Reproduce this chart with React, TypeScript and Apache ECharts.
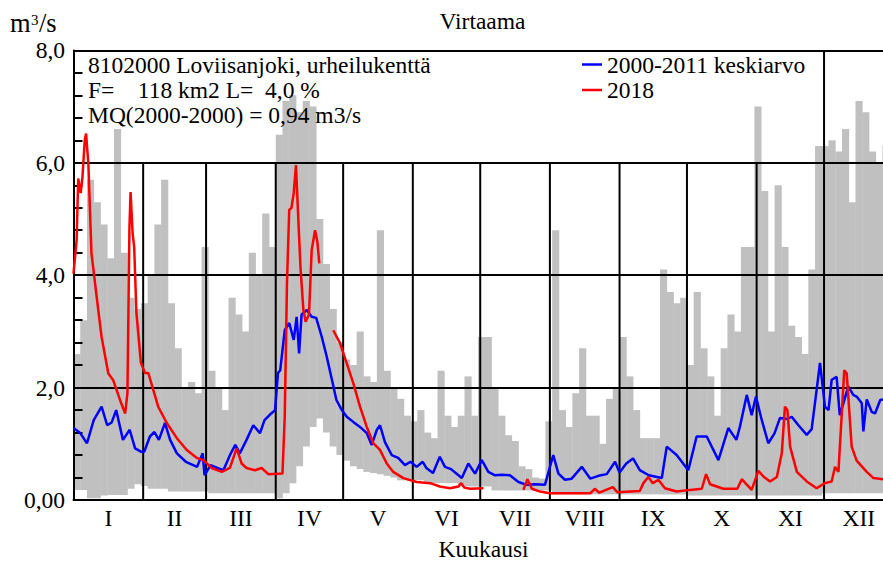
import React, { useEffect, useRef } from 'react';
import * as echarts from 'echarts';

// ---- data ----
// Gray band: daily range 2000-2011, summarised in 3-day bins (bin i starts at day i*3)
const BIN_DAYS = 3;
const grayMax = [
  2.6, 3.2, 5.7, 5.3, 4.9, 4.3, 6.6, 4.4, 3.6, 3.4,
  3.5, 4.0, 4.9, 5.7, 3.5, 2.7, 2.0, 2.1, 1.9, 4.5,
  2.3, 2.0, 1.6, 3.6, 3.3, 3.0, 4.4, 4.0, 5.1, 4.5,
  6.5, 7.1, 7.2, 6.9, 7.1, 7.0, 5.0, 4.2, 3.4, 2.8,
  2.5, 2.4, 3.0, 2.2, 2.1, 4.8, 2.3, 2.0, 1.8, 1.5,
  1.4, 1.6, 1.2, 1.1, 2.3, 1.5, 1.3, 1.5, 2.2, 1.5,
  2.9, 2.9, 2.0, 1.5, 1.15, 1.05, 0.6, 0.55, 0.4, 0.38,
  1.4, 4.8, 1.6, 1.3, 1.9, 2.7, 1.5, 1.5, 1.0, 1.8,
  2.0, 2.9, 2.2, 1.6, 1.1, 1.1, 1.1, 4.1, 3.7, 3.5,
  3.6, 2.4, 3.7, 2.7, 2.2, 1.5, 2.7, 3.3, 3.0, 4.5,
  4.5, 7.0, 5.5, 3.0, 5.6, 4.5, 3.1, 2.9, 2.6, 4.1,
  6.3, 6.3, 6.4, 6.2, 6.6, 5.3, 7.1, 6.9, 6.2, 6.0,
  6.3, 6.0,
];
const grayMin = [
  0.18, 0.18, 0.03, 0.03, 0.08, 0.09, 0.09, 0.09, 0.2, 0.28,
  0.25, 0.2, 0.2, 0.2, 0.15, 0.15, 0.15, 0.15, 0.15, 0.15,
  0.12, 0.12, 0.12, 0.12, 0.12, 0.12, 0.12, 0.12, 0.12, 0.12,
  0.03, 0.12, 0.3, 0.6, 0.95, 1.3, 1.45, 1.2, 0.95, 0.8,
  0.7, 0.6, 0.55, 0.5, 0.48, 0.46, 0.43, 0.4, 0.35, 0.35,
  0.35, 0.35, 0.3, 0.3, 0.3, 0.3, 0.3, 0.24, 0.24, 0.24,
  0.24, 0.24, 0.17, 0.17, 0.17, 0.17, 0.17, 0.17, 0.17, 0.17,
  0.17, 0.1, 0.1, 0.1, 0.1, 0.1, 0.1, 0.1, 0.1, 0.1,
  0.1, 0.1, 0.1, 0.1, 0.1, 0.1, 0.1, 0.1, 0.1, 0.1,
  0.1, 0.08, 0.08, 0.08, 0.08, 0.08, 0.08, 0.08, 0.08, 0.08,
  0.08, 0.08, 0.08, 0.08, 0.08, 0.08, 0.08, 0.08, 0.08, 0.08,
  0.08, 0.12, 0.12, 0.12, 0.12, 0.12, 0.12, 0.12, 0.12, 0.12,
  0.12, 0.12,
];

// Blue: 2000-2011 keskiarvo (day of year, m3/s)
const blueDays = [
  0, 3, 6, 9, 12.5, 15, 17, 19, 22, 25, 27.4, 30, 31.5, 34, 36, 38, 40.7, 43, 46, 50,
  55, 57.5, 58.3, 61, 64, 66.7, 70, 72, 74, 77, 80, 83, 85, 88, 89.7, 91, 92, 94, 96, 98,
  99.3, 100.4, 101.5, 103.8, 106, 108, 110.5, 112.7, 115, 117, 119.4, 121.6, 124.5, 127.5, 130.5, 132.7, 135, 136.4, 138.6, 141.6,
  144.5, 147.5, 150, 152.7, 155.4, 157, 160, 163, 165.3, 168, 172.8, 175.7, 178.7, 181.7, 184.6, 187.6, 190.5, 194.2, 198, 201.7,
  205.4, 209.8, 211.6, 213.5, 215.8, 218.7, 221.7, 226.2, 230, 233.6, 237.3, 241, 243, 246, 249, 252, 256, 261.8, 264, 268.4,
  273.6, 277.3, 281.8, 287, 291.4, 295, 296.6, 299.6, 301.8, 303.7, 306.3, 309.2, 312, 314.4, 317.4, 319.6, 322.6, 326.3, 328.5, 330.7,
  332.2, 334.4, 336, 337.4, 339.6, 341, 342.6, 344.8, 347, 348.5, 350.8, 351.5, 353, 355.2, 356.7, 359, 362, 364,
];
const blueValues = [
  1.28, 1.19, 1.01, 1.42, 1.66, 1.33, 1.38, 1.6, 1.07, 1.25, 0.92, 0.86, 0.86, 1.13, 1.21, 1.07, 1.37, 1.07, 0.83, 0.68,
  0.59, 0.83, 0.44, 0.62, 0.57, 0.53, 0.83, 0.98, 0.83, 1.07, 1.33, 1.19, 1.42, 1.54, 1.6, 2.26, 2.31, 3.02, 3.15, 2.85,
  3.26, 2.61, 3.3, 3.38, 3.26, 3.24, 2.9, 2.55, 2.14, 1.78, 1.6, 1.48, 1.39, 1.3, 1.19, 0.98, 1.25, 1.33, 1.03, 0.8,
  0.75, 0.62, 0.68, 0.59, 0.68, 0.57, 0.48, 0.77, 0.59, 0.55, 0.39, 0.65, 0.47, 0.71, 0.5, 0.44, 0.45, 0.44, 0.32, 0.27,
  0.28, 0.27, 0.53, 0.8, 0.47, 0.36, 0.38, 0.59, 0.38, 0.43, 0.46, 0.68, 0.49, 0.65, 0.74, 0.53, 0.44, 0.39, 0.95, 0.8,
  0.53, 1.13, 1.13, 0.71, 1.28, 1.07, 1.31, 1.87, 1.51, 1.84, 1.42, 1.01, 1.19, 1.46, 1.44, 1.48, 1.33, 1.16, 1.26, 1.96,
  2.44, 1.66, 1.6, 2.14, 2.19, 1.51, 1.72, 2.02, 1.87, 1.84, 1.72, 1.22, 1.79, 1.57, 1.54, 1.78, 1.8, 1.75,
];

// Red: 2018 (null = missing observations)
const redDays = [
  0, 1.4, 2.1, 3.2, 4, 5, 5.6, 6.6, 8, 10.3, 12.5, 15.5, 17.7, 20.7, 23, 24, 24.9, 25.4, 26.3, 27,
  28, 30, 31.8, 33.3, 35.5, 37.7, 41.5, 46, 50.4, 54.8, 57.8, 61.5, 66, 69.6, 72.6, 74.8, 77, 80.8, 83.7, 86.7,
  93, 94, 95, 96, 97, 98, 99, 100, 101, 102.3, 103.3, 104.8, 106, 107.5, 108.5, 109.4, 110, 115.6, 118.6, 121.6,
  124.5, 127.5, 130.5, 133.4, 136.4, 139.4, 142.3, 146.8, 152.7, 158.7, 163, 167.6, 171.3, 172.5, 174, 176.5, 182.4, 190, 200.2, 202,
  204, 207.6, 212, 219.5, 230, 232, 234, 240, 242, 252, 253.6, 255.8, 257.8, 260.3, 263.2, 268.4, 274.4, 279.6, 281.5, 283.3,
  289.2, 295.4, 297.4, 299, 301.8, 304.8, 307, 310, 313, 315.2, 316.6, 317.7, 318.9, 321.9, 326.3, 330.7, 334.4, 337.4, 338.9, 340.4,
  341.9, 343, 344.1, 346.3, 348.5, 353, 356, 360.3, 364,
];
const redValues = [
  4.03, 4.63, 5.72, 5.46, 5.75, 6.4, 6.52, 5.99, 4.39, 3.62, 2.9, 2.25, 2.13, 1.78, 1.54, 1.9, 4.86, 5.48, 4.75, 4.5,
  3.33, 2.44, 2.26, 2.26, 1.96, 1.66, 1.37, 1.1, 0.89, 0.75, 0.71, 0.57, 0.5, 0.57, 0.92, 0.65, 0.57, 0.53, 0.57, 0.46,
  0.47, 1.48, 3.86, 5.16, 5.2, 5.46, 5.96, 5.04, 4.15, 3.38, 3.17, 3.3, 4.45, 4.8, 4.6, 4.21, null, 3.02, 2.79, 2.43,
  2.08, 1.66, 1.3, 1.01, 0.89, 0.65, 0.5, 0.39, 0.32, 0.3, 0.24, 0.21, 0.24, 0.3, 0.22, 0.2, 0.21, null, 0.18, 0.37,
  0.2, 0.15, 0.12, 0.12, 0.12, 0.2, 0.13, 0.23, 0.14, 0.16, 0.3, 0.41, 0.3, 0.36, 0.21, 0.15, 0.18, 0.2, 0.46, 0.28,
  0.2, 0.2, 0.37, 0.3, 0.18, 0.52, 0.42, 0.33, 0.41, 0.83, 1.66, 1.6, 0.95, 0.5, 0.33, 0.21, 0.3, 0.33, 0.59, 0.5,
  1.54, 2.31, 2.25, 0.95, 0.7, 0.5, 0.39, 0.37, 0.37,
];

// Axes
const monthStarts = [0, 31, 59, 90, 120, 151, 181, 212, 243, 273, 304, 334, 365];
const monthLabels = ['I', 'II', 'III', 'IV', 'V', 'VI', 'VII', 'VIII', 'IX', 'X', 'XI', 'XII'];
const yTickLabels: Record<string, string> = { '0': '0,00', '2': '2,0', '4': '4,0', '6': '6,0', '8': '8,0' };

const BLUE_NAME = '2000-2011 keskiarvo';
const RED_NAME = '2018';
const infoLines = [
  '8102000 Loviisanjoki, urheilukenttä',
  'F=\u00a0\u00a0\u00a0\u00a0118 km2 L=\u00a0\u00a04,0 %',
  'MQ(2000-2000) = 0,94 m3/s',
];

const FONT = '"Liberation Serif", "Times New Roman", serif';
const FS = 23.5;

export default function App() {
  const ref = useRef<HTMLDivElement>(null);

  useEffect(() => {
    if (!ref.current) return;
    const chart = echarts.init(ref.current, null, { renderer: 'svg' });

    const monthCenters = monthLabels.map((_, i) => (monthStarts[i] + monthStarts[i + 1]) / 2);
    const innerMonthStarts = monthStarts.slice(1, 12);

    const grayData = grayMax.map((hi, i) => [i * BIN_DAYS, grayMin[i], hi]);
    const blueData = blueDays.map((d, i) => [d, blueValues[i]]);
    const redData = redDays.map((d, i) => [d, redValues[i] === null ? '-' : redValues[i]]);

    const txt = (text: string, x: number, y: number, extra: any = {}) => ({
      type: 'text',
      x,
      y,
      z: 100,
      silent: true,
      style: {
        text,
        fill: '#000',
        fontFamily: FONT,
        fontSize: FS,
        verticalAlign: 'middle',
        align: 'left',
        ...extra,
      },
    });

    chart.setOption({
      animation: false,
      backgroundColor: '#ffffff',
      grid: {
        left: 73.5,
        top: 50.4,
        right: -10.7,
        bottom: 63,
        containLabel: false,
        outerBoundsMode: 'none',
      },
      legend: {
        data: [
          { name: BLUE_NAME, icon: 'rect' },
          { name: RED_NAME, icon: 'rect' },
        ],
        orient: 'vertical',
        left: 582,
        top: 52.5,
        z: 100,
        padding: 0,
        itemWidth: 20,
        itemHeight: 2.5,
        itemGap: 1.5,
        selectedMode: false,
        textStyle: { fontFamily: FONT, fontSize: FS, color: '#000' },
      },
      xAxis: {
        type: 'value',
        min: 0,
        max: 365,
        z: 1,
        name: 'Kuukausi',
        nameLocation: 'middle',
        nameGap: 39,
        nameTextStyle: { fontFamily: FONT, fontSize: FS, color: '#000', lineHeight: 20 },
        axisLine: { show: true, onZero: false, lineStyle: { color: '#000', width: 2 } },
        axisTick: { show: false },
        splitLine: { show: false },
        axisLabel: {
          customValues: monthCenters,
          margin: 6,
          fontFamily: FONT,
          fontSize: FS,
          color: '#000',
          formatter: (v: number) => {
            const i = monthCenters.findIndex((c) => Math.abs(c - v) < 0.01);
            return i >= 0 ? monthLabels[i] : '';
          },
        },
      },
      yAxis: {
        type: 'value',
        min: 0,
        max: 8,
        interval: 2,
        z: 1,
        axisLine: { show: true, lineStyle: { color: '#000', width: 2 } },
        axisTick: { show: true, inside: true, length: 9, lineStyle: { color: '#000', width: 2 } },
        minorTick: { show: true, splitNumber: 5, length: 9, lineStyle: { color: '#000', width: 2 } },
        splitLine: { show: true, lineStyle: { color: '#000', width: 2 } },
        axisLabel: {
          margin: 8.5,
          fontFamily: FONT,
          fontSize: FS,
          color: '#000',
          padding: [6, 0, 0, 0],
          formatter: (v: number) => yTickLabels[String(v)] ?? '',
        },
      },
      graphic: [
        txt('Virtaama', 482.5, 21, { align: 'center' }),
        txt('m', 10, 23, { fontSize: 26.5 }),
        txt('3', 31, 20, { fontSize: 15 }),
        txt('/s', 39, 23, { fontSize: 26.5 }),
        txt(infoLines[0], 88, 64.5),
        txt(infoLines[1], 88, 89.5),
        txt(infoLines[2], 88, 114.5),
      ],
      series: [
        {
          type: 'custom',
          name: 'range',
          z: 0,
          silent: true,
          encode: { x: 0, y: [1, 2] },
          data: grayData,
          renderItem: (_params: any, api: any) => {
            const start = api.value(0) as number;
            const lo = api.value(1) as number;
            const hi = api.value(2) as number;
            const end = Math.min(start + BIN_DAYS, 365);
            const a = api.coord([start, hi]);
            const b = api.coord([end, lo]);
            return {
              type: 'rect',
              shape: { x: a[0], y: a[1], width: b[0] - a[0] + 0.4, height: b[1] - a[1] },
              style: { fill: '#c0c0c0' },
            };
          },
        },
        {
          type: 'custom',
          name: 'months',
          z: 1,
          silent: true,
          encode: { x: 0 },
          data: innerMonthStarts.map((d) => [d]),
          renderItem: (_params: any, api: any) => {
            const d = api.value(0) as number;
            const top = d === 334 ? 8 : 6;
            const a = api.coord([d, top]);
            const b = api.coord([d, 0]);
            return {
              type: 'line',
              shape: { x1: a[0], y1: a[1], x2: b[0], y2: b[1] },
              style: { stroke: '#000', lineWidth: 2 },
            };
          },
        },
        {
          type: 'line',
          name: BLUE_NAME,
          z: 4,
          data: blueData,
          symbol: 'none',
          lineStyle: { color: '#0000ff', width: 2.5 },
          itemStyle: { color: '#0000ff' },
        },
        {
          type: 'line',
          name: RED_NAME,
          z: 5,
          data: redData,
          symbol: 'none',
          connectNulls: false,
          lineStyle: { color: '#ff0000', width: 2.5 },
          itemStyle: { color: '#ff0000' },
        },
      ],
    });

    return () => chart.dispose();
  }, []);

  return (
    <div
      ref={ref}
      style={{ position: 'fixed', left: 0, top: 0, width: 883, height: 563, background: '#fff' }}
    />
  );
}
